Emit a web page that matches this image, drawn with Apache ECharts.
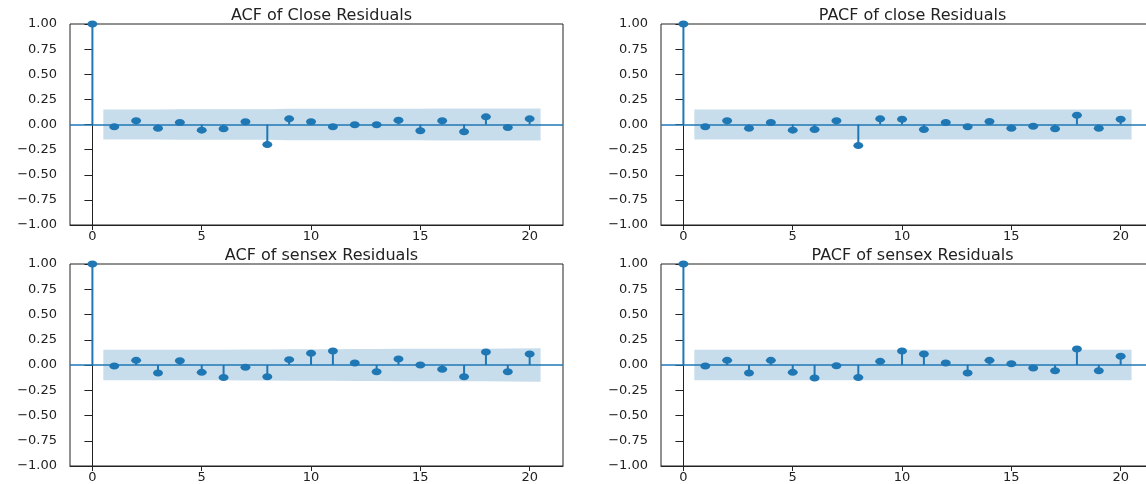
<!DOCTYPE html>
<html>
<head>
<meta charset="utf-8">
<script src="https://cdn.jsdelivr.net/npm/echarts@6/dist/echarts.min.js"></script>
<style>
  html, body { margin: 0; padding: 0; background: #fff; overflow: hidden; }
  /* the figure is a bit wider than the window: the right hand panels are cut off */
  #main { width: 1160px; height: 484px; }
</style>
</head>
<body>
<div id="main"></div>
<script>
// lags 0..20
const lags = [0, 1, 2, 3, 4, 5, 6, 7, 8, 9, 10, 11, 12, 13, 14, 15, 16, 17, 18, 19, 20]

// values
const closeAcf = [1, -0.023, 0.037, -0.037, 0.02, -0.056, -0.043, 0.027, -0.2, 0.056, 0.027,
  -0.023, -0.003, -0.003, 0.043, -0.063, 0.037, -0.073, 0.076, -0.03, 0.056]
const closePacf = [1, -0.023, 0.037, -0.037, 0.02, -0.056, -0.05, 0.037, -0.21, 0.056, 0.053,
  -0.05, 0.02, -0.023, 0.03, -0.037, -0.017, -0.043, 0.093, -0.037, 0.053]
const sensexAcf = [1, -0.01, 0.046, -0.08, 0.043, -0.073, -0.123, -0.023, -0.116, 0.053, 0.116,
  0.139, 0.02, -0.066, 0.06, 0.0, -0.043, -0.116, 0.129, -0.066, 0.109]
const sensexPacf = [1, -0.01, 0.046, -0.08, 0.046, -0.073, -0.129, -0.007, -0.123, 0.036, 0.139,
  0.109, 0.02, -0.08, 0.046, 0.013, -0.03, -0.056, 0.159, -0.056, 0.086]

// confidence band half widths, lags 1..20
const closeAcfBand = [0.150, 0.150, 0.150, 0.151, 0.151, 0.151, 0.152, 0.152, 0.156, 0.156,
  0.156, 0.157, 0.157, 0.157, 0.157, 0.158, 0.158, 0.158, 0.159, 0.159]
const closePacfBand = [0.150, 0.150, 0.150, 0.150, 0.150, 0.150, 0.150, 0.150, 0.150, 0.150,
  0.150, 0.150, 0.150, 0.150, 0.150, 0.150, 0.150, 0.150, 0.150, 0.150]
const sensexAcfBand = [0.150, 0.150, 0.150, 0.151, 0.151, 0.152, 0.153, 0.153, 0.155, 0.155,
  0.157, 0.159, 0.159, 0.160, 0.160, 0.160, 0.160, 0.162, 0.164, 0.165]
const sensexPacfBand = [0.150, 0.150, 0.150, 0.150, 0.150, 0.150, 0.150, 0.150, 0.150, 0.150,
  0.150, 0.150, 0.150, 0.150, 0.150, 0.150, 0.150, 0.150, 0.150, 0.150]

const xTicks = [0, 5, 10, 15, 20]

const C0 = '#1f77b4'
const FONT = 'DejaVu Sans'

const panels = [
  { title: 'ACF of Close Residuals', vals: closeAcf, band: closeAcfBand, left: 70, top: 24, height: 201 },
  { title: 'PACF of close Residuals', vals: closePacf, band: closePacfBand, left: 661, top: 24, height: 201 },
  { title: 'ACF of sensex Residuals', vals: sensexAcf, band: sensexAcfBand, left: 70, top: 264, height: 202 },
  { title: 'PACF of sensex Residuals', vals: sensexPacf, band: sensexPacfBand, left: 661, top: 264, height: 202 },
]
const panelWidth = 493

var myChart = echarts.init(document.getElementById('main'))

var titles = []
var grids = []
var xAxes = []
var yAxes = []
var series = []

panels.forEach(function (p, i) {
  titles.push({
    text: p.title,
    left: p.left + panelWidth / 2,
    top: p.top - 21,
    textAlign: 'center',
    textStyle: { fontFamily: FONT, fontSize: 16, fontWeight: 'normal', color: '#222' },
  })
  grids.push({
    left: p.left,
    top: p.top,
    width: panelWidth,
    height: p.height,
    show: true,
    borderColor: '#222',
    borderWidth: 1,
  })
  xAxes.push({
    type: 'value',
    gridIndex: i,
    min: -1.025,
    max: 21.525,
    splitLine: { show: false },
    axisLine: { show: true, onZero: false, lineStyle: { color: '#222' } },
    axisTick: { show: true, length: 5, customValues: xTicks, lineStyle: { color: '#222' } },
    axisLabel: {
      customValues: xTicks,
      margin: 5,
      fontFamily: FONT,
      fontSize: 13,
      color: '#222',
    },
  })
  yAxes.push({
    type: 'value',
    gridIndex: i,
    min: -1,
    max: 1,
    interval: 0.25,
    splitLine: { show: false },
    axisLine: { show: true, lineStyle: { color: '#222' } },
    axisTick: { show: true, length: 8, lineStyle: { color: '#222' } },
    axisLabel: {
      margin: 13,
      fontFamily: FONT,
      fontSize: 13,
      color: '#222',
      formatter: function (v) {
        return (v < 0 ? '\u2212' : '') + Math.abs(v).toFixed(2)
      },
    },
  })

  // band x: lag 1 shifted left by half, lag 20 shifted right by half
  var bandX = lags.slice(1).map(function (l, k, arr) {
    if (k === 0) return l - 0.5
    if (k === arr.length - 1) return l + 0.5
    return l
  })
  var upper = p.band.map(function (h, k) { return [bandX[k], h] })
  var lower = p.band.map(function (h, k) { return [bandX[k], -h] })
  ;[upper, lower].forEach(function (d) {
    series.push({
      type: 'line',
      xAxisIndex: i,
      yAxisIndex: i,
      data: d,
      showSymbol: false,
      silent: true,
      lineStyle: { width: 0 },
      areaStyle: { color: 'rgba(31,119,180,0.25)', opacity: 1 },
      z: 1,
    })
  })

  var pts = lags.map(function (l, k) { return [l, p.vals[k]] })

  // stems
  series.push({
    type: 'custom',
    xAxisIndex: i,
    yAxisIndex: i,
    data: pts,
    encode: { x: 0, y: 1 },
    silent: true,
    z: 3,
    renderItem: function (params, api) {
      var top = api.coord([api.value(0), api.value(1)])
      var base = api.coord([api.value(0), 0])
      return {
        type: 'line',
        shape: { x1: base[0], y1: base[1], x2: top[0], y2: top[1] },
        style: { stroke: C0, lineWidth: 2 },
      }
    },
  })

  // markers + zero line
  series.push({
    type: 'scatter',
    xAxisIndex: i,
    yAxisIndex: i,
    data: pts,
    symbol: 'circle',
    symbolSize: [10, 7],
    itemStyle: { color: C0, opacity: 1 },
    silent: true,
    z: 4,
    markLine: {
      silent: true,
      symbol: ['none', 'none'],
      label: { show: false },
      lineStyle: { color: C0, width: 1.5, type: 'solid' },
      data: [{ yAxis: 0 }],
      animation: false,
    },
  })
})

var option = {
  animation: false,
  backgroundColor: '#fff',
  title: titles,
  grid: grids,
  xAxis: xAxes,
  yAxis: yAxes,
  series: series,
}

myChart.setOption(option)
window.addEventListener('resize', function () {
  myChart.resize()
})
</script>
</body>
</html>
